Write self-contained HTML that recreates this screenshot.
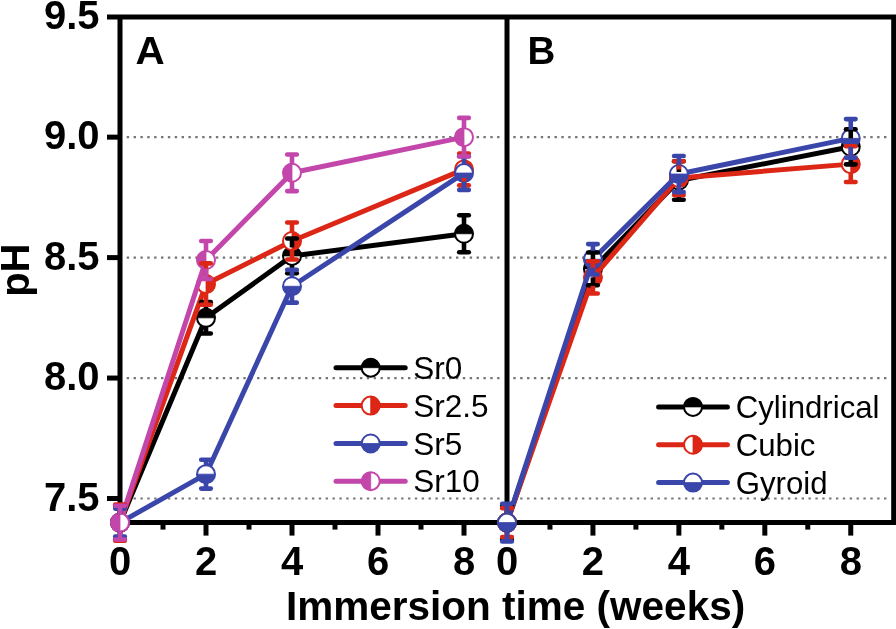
<!DOCTYPE html>
<html><head><meta charset="utf-8"><style>
html,body{margin:0;padding:0;background:#fff;}
body{width:896px;height:629px;overflow:hidden;font-family:"Liberation Sans",sans-serif;}
svg{display:block;will-change:transform;}
</style></head><body>
<svg width="896" height="629" viewBox="0 0 896 629" font-family="Liberation Sans, sans-serif"><rect width="896" height="629" fill="#fff"/><line x1="126.7" y1="137.15" x2="503" y2="137.15" stroke="#767676" stroke-width="2.2" stroke-dasharray="2.4 4.46"/><line x1="513.3" y1="137.15" x2="890" y2="137.15" stroke="#767676" stroke-width="2.2" stroke-dasharray="2.4 4.465"/><line x1="126.7" y1="257.60" x2="503" y2="257.60" stroke="#767676" stroke-width="2.2" stroke-dasharray="2.4 4.46"/><line x1="513.3" y1="257.60" x2="890" y2="257.60" stroke="#767676" stroke-width="2.2" stroke-dasharray="2.4 4.465"/><line x1="126.7" y1="378.05" x2="503" y2="378.05" stroke="#767676" stroke-width="2.2" stroke-dasharray="2.4 4.46"/><line x1="513.3" y1="378.05" x2="890" y2="378.05" stroke="#767676" stroke-width="2.2" stroke-dasharray="2.4 4.465"/><line x1="126.7" y1="498.50" x2="503" y2="498.50" stroke="#767676" stroke-width="2.2" stroke-dasharray="2.4 4.46"/><line x1="513.3" y1="498.50" x2="890" y2="498.50" stroke="#767676" stroke-width="2.2" stroke-dasharray="2.4 4.465"/><g stroke="#000" stroke-width="5" fill="none"><path d="M107,17.0 H893.7 V522.6 H120 V17.0"/><line x1="507" y1="17.0" x2="507" y2="522.6"/><line x1="107" y1="137.15" x2="120" y2="137.15"/><line x1="107" y1="257.60" x2="120" y2="257.60"/><line x1="107" y1="378.05" x2="120" y2="378.05"/><line x1="107" y1="498.50" x2="120" y2="498.50"/><line x1="206.00" y1="522.6" x2="206.00" y2="535.6"/><line x1="292.00" y1="522.6" x2="292.00" y2="535.6"/><line x1="378.00" y1="522.6" x2="378.00" y2="535.6"/><line x1="464.00" y1="522.6" x2="464.00" y2="535.6"/><line x1="163.00" y1="522.6" x2="163.00" y2="529.6"/><line x1="249.00" y1="522.6" x2="249.00" y2="529.6"/><line x1="335.00" y1="522.6" x2="335.00" y2="529.6"/><line x1="421.00" y1="522.6" x2="421.00" y2="529.6"/><line x1="592.94" y1="522.6" x2="592.94" y2="535.6"/><line x1="678.88" y1="522.6" x2="678.88" y2="535.6"/><line x1="764.82" y1="522.6" x2="764.82" y2="535.6"/><line x1="850.76" y1="522.6" x2="850.76" y2="535.6"/><line x1="549.97" y1="522.6" x2="549.97" y2="529.6"/><line x1="635.91" y1="522.6" x2="635.91" y2="529.6"/><line x1="721.85" y1="522.6" x2="721.85" y2="529.6"/><line x1="807.79" y1="522.6" x2="807.79" y2="529.6"/></g><polyline points="120.00,522.59 206.00,317.82 292.00,255.91 464.00,233.75" fill="none" stroke="#000000" stroke-width="5.0" stroke-linejoin="round" stroke-linecap="round"/><circle cx="120.00" cy="522.59" r="9.0" fill="#fff" stroke="#000000" stroke-width="2.0"/><path d="M111.00,522.59 A9.0,9.0 0 0 1 129.00,522.59 Z" fill="#000000" stroke="#000000" stroke-width="0.8"/><circle cx="206.00" cy="317.82" r="9.0" fill="#fff" stroke="#000000" stroke-width="2.0"/><path d="M197.00,317.82 A9.0,9.0 0 0 1 215.00,317.82 Z" fill="#000000" stroke="#000000" stroke-width="0.8"/><circle cx="292.00" cy="255.91" r="9.0" fill="#fff" stroke="#000000" stroke-width="2.0"/><path d="M283.00,255.91 A9.0,9.0 0 0 1 301.00,255.91 Z" fill="#000000" stroke="#000000" stroke-width="0.8"/><circle cx="464.00" cy="233.75" r="9.0" fill="#fff" stroke="#000000" stroke-width="2.0"/><path d="M455.00,233.75 A9.0,9.0 0 0 1 473.00,233.75 Z" fill="#000000" stroke="#000000" stroke-width="0.8"/><polyline points="120.00,522.59 206.00,284.10 292.00,240.98 464.00,169.43" fill="none" stroke="#DC2616" stroke-width="5.0" stroke-linejoin="round" stroke-linecap="round"/><circle cx="120.00" cy="522.59" r="9.0" fill="#fff" stroke="#DC2616" stroke-width="2.0"/><path d="M120.00,513.59 A9.0,9.0 0 0 1 120.00,531.59 Z" fill="#DC2616" stroke="#DC2616" stroke-width="0.8"/><circle cx="206.00" cy="284.10" r="9.0" fill="#fff" stroke="#DC2616" stroke-width="2.0"/><path d="M206.00,275.10 A9.0,9.0 0 0 1 206.00,293.10 Z" fill="#DC2616" stroke="#DC2616" stroke-width="0.8"/><circle cx="292.00" cy="240.98" r="9.0" fill="#fff" stroke="#DC2616" stroke-width="2.0"/><path d="M292.00,231.98 A9.0,9.0 0 0 1 292.00,249.98 Z" fill="#DC2616" stroke="#DC2616" stroke-width="0.8"/><circle cx="464.00" cy="169.43" r="9.0" fill="#fff" stroke="#DC2616" stroke-width="2.0"/><path d="M464.00,160.43 A9.0,9.0 0 0 1 464.00,178.43 Z" fill="#DC2616" stroke="#DC2616" stroke-width="0.8"/><polyline points="120.00,522.59 206.00,474.17 292.00,286.27 464.00,173.04" fill="none" stroke="#3A46AA" stroke-width="5.0" stroke-linejoin="round" stroke-linecap="round"/><circle cx="120.00" cy="522.59" r="9.0" fill="#fff" stroke="#3A46AA" stroke-width="2.0"/><path d="M111.00,522.59 A9.0,9.0 0 0 0 129.00,522.59 Z" fill="#3A46AA" stroke="#3A46AA" stroke-width="0.8"/><circle cx="206.00" cy="474.17" r="9.0" fill="#fff" stroke="#3A46AA" stroke-width="2.0"/><path d="M197.00,474.17 A9.0,9.0 0 0 0 215.00,474.17 Z" fill="#3A46AA" stroke="#3A46AA" stroke-width="0.8"/><circle cx="292.00" cy="286.27" r="9.0" fill="#fff" stroke="#3A46AA" stroke-width="2.0"/><path d="M283.00,286.27 A9.0,9.0 0 0 0 301.00,286.27 Z" fill="#3A46AA" stroke="#3A46AA" stroke-width="0.8"/><circle cx="464.00" cy="173.04" r="9.0" fill="#fff" stroke="#3A46AA" stroke-width="2.0"/><path d="M455.00,173.04 A9.0,9.0 0 0 0 473.00,173.04 Z" fill="#3A46AA" stroke="#3A46AA" stroke-width="0.8"/><polyline points="120.00,522.59 206.00,260.01 292.00,172.80 464.00,137.15" fill="none" stroke="#C346AA" stroke-width="5.0" stroke-linejoin="round" stroke-linecap="round"/><circle cx="120.00" cy="522.59" r="9.0" fill="#fff" stroke="#C346AA" stroke-width="2.0"/><path d="M120.00,513.59 A9.0,9.0 0 0 0 120.00,531.59 Z" fill="#C346AA" stroke="#C346AA" stroke-width="0.8"/><circle cx="206.00" cy="260.01" r="9.0" fill="#fff" stroke="#C346AA" stroke-width="2.0"/><path d="M206.00,251.01 A9.0,9.0 0 0 0 206.00,269.01 Z" fill="#C346AA" stroke="#C346AA" stroke-width="0.8"/><circle cx="292.00" cy="172.80" r="9.0" fill="#fff" stroke="#C346AA" stroke-width="2.0"/><path d="M292.00,163.80 A9.0,9.0 0 0 0 292.00,181.80 Z" fill="#C346AA" stroke="#C346AA" stroke-width="0.8"/><circle cx="464.00" cy="137.15" r="9.0" fill="#fff" stroke="#C346AA" stroke-width="2.0"/><path d="M464.00,128.15 A9.0,9.0 0 0 0 464.00,146.15 Z" fill="#C346AA" stroke="#C346AA" stroke-width="0.8"/><line x1="120.00" y1="514.09" x2="120.00" y2="505.73" stroke="#000000" stroke-width="4.6"/><line x1="120.00" y1="531.09" x2="120.00" y2="539.45" stroke="#000000" stroke-width="4.6"/><line x1="115.20" y1="505.73" x2="124.80" y2="505.73" stroke="#000000" stroke-width="4.6" stroke-linecap="round"/><line x1="115.20" y1="539.45" x2="124.80" y2="539.45" stroke="#000000" stroke-width="4.6" stroke-linecap="round"/><line x1="206.00" y1="309.32" x2="206.00" y2="302.17" stroke="#000000" stroke-width="4.6"/><line x1="206.00" y1="326.32" x2="206.00" y2="333.48" stroke="#000000" stroke-width="4.6"/><line x1="201.20" y1="302.17" x2="210.80" y2="302.17" stroke="#000000" stroke-width="4.6" stroke-linecap="round"/><line x1="201.20" y1="333.48" x2="210.80" y2="333.48" stroke="#000000" stroke-width="4.6" stroke-linecap="round"/><line x1="292.00" y1="247.41" x2="292.00" y2="238.57" stroke="#000000" stroke-width="4.6"/><line x1="292.00" y1="264.41" x2="292.00" y2="273.26" stroke="#000000" stroke-width="4.6"/><line x1="287.20" y1="238.57" x2="296.80" y2="238.57" stroke="#000000" stroke-width="4.6" stroke-linecap="round"/><line x1="287.20" y1="273.26" x2="296.80" y2="273.26" stroke="#000000" stroke-width="4.6" stroke-linecap="round"/><line x1="464.00" y1="225.25" x2="464.00" y2="215.20" stroke="#000000" stroke-width="4.6"/><line x1="464.00" y1="242.25" x2="464.00" y2="252.30" stroke="#000000" stroke-width="4.6"/><line x1="459.20" y1="215.20" x2="468.80" y2="215.20" stroke="#000000" stroke-width="4.6" stroke-linecap="round"/><line x1="459.20" y1="252.30" x2="468.80" y2="252.30" stroke="#000000" stroke-width="4.6" stroke-linecap="round"/><line x1="120.00" y1="514.09" x2="120.00" y2="504.52" stroke="#DC2616" stroke-width="4.6"/><line x1="120.00" y1="531.09" x2="120.00" y2="540.66" stroke="#DC2616" stroke-width="4.6"/><line x1="115.20" y1="504.52" x2="124.80" y2="504.52" stroke="#DC2616" stroke-width="4.6" stroke-linecap="round"/><line x1="115.20" y1="540.66" x2="124.80" y2="540.66" stroke="#DC2616" stroke-width="4.6" stroke-linecap="round"/><line x1="206.00" y1="275.60" x2="206.00" y2="263.38" stroke="#DC2616" stroke-width="4.6"/><line x1="206.00" y1="292.60" x2="206.00" y2="304.82" stroke="#DC2616" stroke-width="4.6"/><line x1="201.20" y1="263.38" x2="210.80" y2="263.38" stroke="#DC2616" stroke-width="4.6" stroke-linecap="round"/><line x1="201.20" y1="304.82" x2="210.80" y2="304.82" stroke="#DC2616" stroke-width="4.6" stroke-linecap="round"/><line x1="292.00" y1="232.48" x2="292.00" y2="222.43" stroke="#DC2616" stroke-width="4.6"/><line x1="292.00" y1="249.48" x2="292.00" y2="259.53" stroke="#DC2616" stroke-width="4.6"/><line x1="287.20" y1="222.43" x2="296.80" y2="222.43" stroke="#DC2616" stroke-width="4.6" stroke-linecap="round"/><line x1="287.20" y1="259.53" x2="296.80" y2="259.53" stroke="#DC2616" stroke-width="4.6" stroke-linecap="round"/><line x1="464.00" y1="160.93" x2="464.00" y2="153.53" stroke="#DC2616" stroke-width="4.6"/><line x1="464.00" y1="177.93" x2="464.00" y2="185.33" stroke="#DC2616" stroke-width="4.6"/><line x1="459.20" y1="153.53" x2="468.80" y2="153.53" stroke="#DC2616" stroke-width="4.6" stroke-linecap="round"/><line x1="459.20" y1="185.33" x2="468.80" y2="185.33" stroke="#DC2616" stroke-width="4.6" stroke-linecap="round"/><line x1="120.00" y1="514.09" x2="120.00" y2="508.62" stroke="#3A46AA" stroke-width="4.6"/><line x1="120.00" y1="531.09" x2="120.00" y2="536.56" stroke="#3A46AA" stroke-width="4.6"/><line x1="115.20" y1="508.62" x2="124.80" y2="508.62" stroke="#3A46AA" stroke-width="4.6" stroke-linecap="round"/><line x1="115.20" y1="536.56" x2="124.80" y2="536.56" stroke="#3A46AA" stroke-width="4.6" stroke-linecap="round"/><line x1="206.00" y1="465.67" x2="206.00" y2="459.72" stroke="#3A46AA" stroke-width="4.6"/><line x1="206.00" y1="482.67" x2="206.00" y2="488.62" stroke="#3A46AA" stroke-width="4.6"/><line x1="201.20" y1="459.72" x2="210.80" y2="459.72" stroke="#3A46AA" stroke-width="4.6" stroke-linecap="round"/><line x1="201.20" y1="488.62" x2="210.80" y2="488.62" stroke="#3A46AA" stroke-width="4.6" stroke-linecap="round"/><line x1="292.00" y1="277.77" x2="292.00" y2="269.89" stroke="#3A46AA" stroke-width="4.6"/><line x1="292.00" y1="294.77" x2="292.00" y2="302.65" stroke="#3A46AA" stroke-width="4.6"/><line x1="287.20" y1="269.89" x2="296.80" y2="269.89" stroke="#3A46AA" stroke-width="4.6" stroke-linecap="round"/><line x1="287.20" y1="302.65" x2="296.80" y2="302.65" stroke="#3A46AA" stroke-width="4.6" stroke-linecap="round"/><line x1="464.00" y1="164.54" x2="464.00" y2="156.18" stroke="#3A46AA" stroke-width="4.6"/><line x1="464.00" y1="181.54" x2="464.00" y2="189.91" stroke="#3A46AA" stroke-width="4.6"/><line x1="459.20" y1="156.18" x2="468.80" y2="156.18" stroke="#3A46AA" stroke-width="4.6" stroke-linecap="round"/><line x1="459.20" y1="189.91" x2="468.80" y2="189.91" stroke="#3A46AA" stroke-width="4.6" stroke-linecap="round"/><line x1="120.00" y1="514.09" x2="120.00" y2="505.73" stroke="#C346AA" stroke-width="4.6"/><line x1="120.00" y1="531.09" x2="120.00" y2="539.45" stroke="#C346AA" stroke-width="4.6"/><line x1="115.20" y1="505.73" x2="124.80" y2="505.73" stroke="#C346AA" stroke-width="4.6" stroke-linecap="round"/><line x1="115.20" y1="539.45" x2="124.80" y2="539.45" stroke="#C346AA" stroke-width="4.6" stroke-linecap="round"/><line x1="206.00" y1="251.51" x2="206.00" y2="240.98" stroke="#C346AA" stroke-width="4.6"/><line x1="206.00" y1="268.51" x2="206.00" y2="279.04" stroke="#C346AA" stroke-width="4.6"/><line x1="201.20" y1="240.98" x2="210.80" y2="240.98" stroke="#C346AA" stroke-width="4.6" stroke-linecap="round"/><line x1="201.20" y1="279.04" x2="210.80" y2="279.04" stroke="#C346AA" stroke-width="4.6" stroke-linecap="round"/><line x1="292.00" y1="164.30" x2="292.00" y2="154.49" stroke="#C346AA" stroke-width="4.6"/><line x1="292.00" y1="181.30" x2="292.00" y2="191.11" stroke="#C346AA" stroke-width="4.6"/><line x1="287.20" y1="154.49" x2="296.80" y2="154.49" stroke="#C346AA" stroke-width="4.6" stroke-linecap="round"/><line x1="287.20" y1="191.11" x2="296.80" y2="191.11" stroke="#C346AA" stroke-width="4.6" stroke-linecap="round"/><line x1="464.00" y1="128.65" x2="464.00" y2="117.88" stroke="#C346AA" stroke-width="4.6"/><line x1="464.00" y1="145.65" x2="464.00" y2="156.42" stroke="#C346AA" stroke-width="4.6"/><line x1="459.20" y1="117.88" x2="468.80" y2="117.88" stroke="#C346AA" stroke-width="4.6" stroke-linecap="round"/><line x1="459.20" y1="156.42" x2="468.80" y2="156.42" stroke="#C346AA" stroke-width="4.6" stroke-linecap="round"/><polyline points="507.00,522.59 592.94,268.92 678.88,180.51 850.76,146.79" fill="none" stroke="#000000" stroke-width="5.0" stroke-linejoin="round" stroke-linecap="round"/><circle cx="507.00" cy="522.59" r="9.0" fill="#fff" stroke="#000000" stroke-width="2.0"/><path d="M498.00,522.59 A9.0,9.0 0 0 1 516.00,522.59 Z" fill="#000000" stroke="#000000" stroke-width="0.8"/><circle cx="592.94" cy="268.92" r="9.0" fill="#fff" stroke="#000000" stroke-width="2.0"/><path d="M583.94,268.92 A9.0,9.0 0 0 1 601.94,268.92 Z" fill="#000000" stroke="#000000" stroke-width="0.8"/><circle cx="678.88" cy="180.51" r="9.0" fill="#fff" stroke="#000000" stroke-width="2.0"/><path d="M669.88,180.51 A9.0,9.0 0 0 1 687.88,180.51 Z" fill="#000000" stroke="#000000" stroke-width="0.8"/><circle cx="850.76" cy="146.79" r="9.0" fill="#fff" stroke="#000000" stroke-width="2.0"/><path d="M841.76,146.79 A9.0,9.0 0 0 1 859.76,146.79 Z" fill="#000000" stroke="#000000" stroke-width="0.8"/><polyline points="507.00,522.59 592.94,277.35 678.88,178.10 850.76,164.13" fill="none" stroke="#DC2616" stroke-width="5.0" stroke-linejoin="round" stroke-linecap="round"/><circle cx="507.00" cy="522.59" r="9.0" fill="#fff" stroke="#DC2616" stroke-width="2.0"/><path d="M507.00,513.59 A9.0,9.0 0 0 1 507.00,531.59 Z" fill="#DC2616" stroke="#DC2616" stroke-width="0.8"/><circle cx="592.94" cy="277.35" r="9.0" fill="#fff" stroke="#DC2616" stroke-width="2.0"/><path d="M592.94,268.35 A9.0,9.0 0 0 1 592.94,286.35 Z" fill="#DC2616" stroke="#DC2616" stroke-width="0.8"/><circle cx="678.88" cy="178.10" r="9.0" fill="#fff" stroke="#DC2616" stroke-width="2.0"/><path d="M678.88,169.10 A9.0,9.0 0 0 1 678.88,187.10 Z" fill="#DC2616" stroke="#DC2616" stroke-width="0.8"/><circle cx="850.76" cy="164.13" r="9.0" fill="#fff" stroke="#DC2616" stroke-width="2.0"/><path d="M850.76,155.13 A9.0,9.0 0 0 1 850.76,173.13 Z" fill="#DC2616" stroke="#DC2616" stroke-width="0.8"/><polyline points="507.00,522.59 592.94,259.29 678.88,174.01 850.76,138.35" fill="none" stroke="#3A46AA" stroke-width="5.0" stroke-linejoin="round" stroke-linecap="round"/><circle cx="507.00" cy="522.59" r="9.0" fill="#fff" stroke="#3A46AA" stroke-width="2.0"/><path d="M498.00,522.59 A9.0,9.0 0 0 0 516.00,522.59 Z" fill="#3A46AA" stroke="#3A46AA" stroke-width="0.8"/><circle cx="592.94" cy="259.29" r="9.0" fill="#fff" stroke="#3A46AA" stroke-width="2.0"/><path d="M583.94,259.29 A9.0,9.0 0 0 0 601.94,259.29 Z" fill="#3A46AA" stroke="#3A46AA" stroke-width="0.8"/><circle cx="678.88" cy="174.01" r="9.0" fill="#fff" stroke="#3A46AA" stroke-width="2.0"/><path d="M669.88,174.01 A9.0,9.0 0 0 0 687.88,174.01 Z" fill="#3A46AA" stroke="#3A46AA" stroke-width="0.8"/><circle cx="850.76" cy="138.35" r="9.0" fill="#fff" stroke="#3A46AA" stroke-width="2.0"/><path d="M841.76,138.35 A9.0,9.0 0 0 0 859.76,138.35 Z" fill="#3A46AA" stroke="#3A46AA" stroke-width="0.8"/><line x1="507.00" y1="514.09" x2="507.00" y2="505.73" stroke="#000000" stroke-width="4.6"/><line x1="507.00" y1="531.09" x2="507.00" y2="539.45" stroke="#000000" stroke-width="4.6"/><line x1="502.20" y1="505.73" x2="511.80" y2="505.73" stroke="#000000" stroke-width="4.6" stroke-linecap="round"/><line x1="502.20" y1="539.45" x2="511.80" y2="539.45" stroke="#000000" stroke-width="4.6" stroke-linecap="round"/><line x1="592.94" y1="260.42" x2="592.94" y2="252.54" stroke="#000000" stroke-width="4.6"/><line x1="592.94" y1="277.42" x2="592.94" y2="285.30" stroke="#000000" stroke-width="4.6"/><line x1="588.14" y1="252.54" x2="597.74" y2="252.54" stroke="#000000" stroke-width="4.6" stroke-linecap="round"/><line x1="588.14" y1="285.30" x2="597.74" y2="285.30" stroke="#000000" stroke-width="4.6" stroke-linecap="round"/><line x1="678.88" y1="172.01" x2="678.88" y2="161.24" stroke="#000000" stroke-width="4.6"/><line x1="678.88" y1="189.01" x2="678.88" y2="199.78" stroke="#000000" stroke-width="4.6"/><line x1="674.08" y1="161.24" x2="683.68" y2="161.24" stroke="#000000" stroke-width="4.6" stroke-linecap="round"/><line x1="674.08" y1="199.78" x2="683.68" y2="199.78" stroke="#000000" stroke-width="4.6" stroke-linecap="round"/><line x1="850.76" y1="138.29" x2="850.76" y2="129.20" stroke="#000000" stroke-width="4.6"/><line x1="850.76" y1="155.29" x2="850.76" y2="164.37" stroke="#000000" stroke-width="4.6"/><line x1="845.96" y1="129.20" x2="855.56" y2="129.20" stroke="#000000" stroke-width="4.6" stroke-linecap="round"/><line x1="845.96" y1="164.37" x2="855.56" y2="164.37" stroke="#000000" stroke-width="4.6" stroke-linecap="round"/><line x1="507.00" y1="514.09" x2="507.00" y2="508.14" stroke="#DC2616" stroke-width="4.6"/><line x1="507.00" y1="531.09" x2="507.00" y2="537.04" stroke="#DC2616" stroke-width="4.6"/><line x1="502.20" y1="508.14" x2="511.80" y2="508.14" stroke="#DC2616" stroke-width="4.6" stroke-linecap="round"/><line x1="502.20" y1="537.04" x2="511.80" y2="537.04" stroke="#DC2616" stroke-width="4.6" stroke-linecap="round"/><line x1="592.94" y1="268.85" x2="592.94" y2="261.21" stroke="#DC2616" stroke-width="4.6"/><line x1="592.94" y1="285.85" x2="592.94" y2="293.49" stroke="#DC2616" stroke-width="4.6"/><line x1="588.14" y1="261.21" x2="597.74" y2="261.21" stroke="#DC2616" stroke-width="4.6" stroke-linecap="round"/><line x1="588.14" y1="293.49" x2="597.74" y2="293.49" stroke="#DC2616" stroke-width="4.6" stroke-linecap="round"/><line x1="678.88" y1="169.60" x2="678.88" y2="161.24" stroke="#DC2616" stroke-width="4.6"/><line x1="678.88" y1="186.60" x2="678.88" y2="194.97" stroke="#DC2616" stroke-width="4.6"/><line x1="674.08" y1="161.24" x2="683.68" y2="161.24" stroke="#DC2616" stroke-width="4.6" stroke-linecap="round"/><line x1="674.08" y1="194.97" x2="683.68" y2="194.97" stroke="#DC2616" stroke-width="4.6" stroke-linecap="round"/><line x1="850.76" y1="155.63" x2="850.76" y2="146.30" stroke="#DC2616" stroke-width="4.6"/><line x1="850.76" y1="172.63" x2="850.76" y2="181.96" stroke="#DC2616" stroke-width="4.6"/><line x1="845.96" y1="146.30" x2="855.56" y2="146.30" stroke="#DC2616" stroke-width="4.6" stroke-linecap="round"/><line x1="845.96" y1="181.96" x2="855.56" y2="181.96" stroke="#DC2616" stroke-width="4.6" stroke-linecap="round"/><line x1="507.00" y1="514.09" x2="507.00" y2="503.80" stroke="#3A46AA" stroke-width="4.6"/><line x1="507.00" y1="531.09" x2="507.00" y2="541.38" stroke="#3A46AA" stroke-width="4.6"/><line x1="502.20" y1="503.80" x2="511.80" y2="503.80" stroke="#3A46AA" stroke-width="4.6" stroke-linecap="round"/><line x1="502.20" y1="541.38" x2="511.80" y2="541.38" stroke="#3A46AA" stroke-width="4.6" stroke-linecap="round"/><line x1="592.94" y1="250.79" x2="592.94" y2="244.11" stroke="#3A46AA" stroke-width="4.6"/><line x1="592.94" y1="267.79" x2="592.94" y2="274.46" stroke="#3A46AA" stroke-width="4.6"/><line x1="588.14" y1="244.11" x2="597.74" y2="244.11" stroke="#3A46AA" stroke-width="4.6" stroke-linecap="round"/><line x1="588.14" y1="274.46" x2="597.74" y2="274.46" stroke="#3A46AA" stroke-width="4.6" stroke-linecap="round"/><line x1="678.88" y1="165.51" x2="678.88" y2="155.94" stroke="#3A46AA" stroke-width="4.6"/><line x1="678.88" y1="182.51" x2="678.88" y2="192.08" stroke="#3A46AA" stroke-width="4.6"/><line x1="674.08" y1="155.94" x2="683.68" y2="155.94" stroke="#3A46AA" stroke-width="4.6" stroke-linecap="round"/><line x1="674.08" y1="192.08" x2="683.68" y2="192.08" stroke="#3A46AA" stroke-width="4.6" stroke-linecap="round"/><line x1="850.76" y1="129.85" x2="850.76" y2="119.08" stroke="#3A46AA" stroke-width="4.6"/><line x1="850.76" y1="146.85" x2="850.76" y2="157.63" stroke="#3A46AA" stroke-width="4.6"/><line x1="845.96" y1="119.08" x2="855.56" y2="119.08" stroke="#3A46AA" stroke-width="4.6" stroke-linecap="round"/><line x1="845.96" y1="157.63" x2="855.56" y2="157.63" stroke="#3A46AA" stroke-width="4.6" stroke-linecap="round"/><line x1="336" y1="367.7" x2="405.2" y2="367.7" stroke="#000000" stroke-width="5.0" stroke-linecap="round"/><circle cx="370.70" cy="367.70" r="9.0" fill="#fff" stroke="#000000" stroke-width="2.0"/><path d="M361.70,367.70 A9.0,9.0 0 0 1 379.70,367.70 Z" fill="#000000" stroke="#000000" stroke-width="0.8"/><text x="413.2" y="378.7" font-size="31.5">Sr0</text><line x1="336" y1="405.6" x2="405.2" y2="405.6" stroke="#DC2616" stroke-width="5.0" stroke-linecap="round"/><circle cx="370.70" cy="405.60" r="9.0" fill="#fff" stroke="#DC2616" stroke-width="2.0"/><path d="M370.70,396.60 A9.0,9.0 0 0 1 370.70,414.60 Z" fill="#DC2616" stroke="#DC2616" stroke-width="0.8"/><text x="413.2" y="416.6" font-size="31.5">Sr2.5</text><line x1="336" y1="443.5" x2="405.2" y2="443.5" stroke="#3A46AA" stroke-width="5.0" stroke-linecap="round"/><circle cx="370.70" cy="443.50" r="9.0" fill="#fff" stroke="#3A46AA" stroke-width="2.0"/><path d="M361.70,443.50 A9.0,9.0 0 0 0 379.70,443.50 Z" fill="#3A46AA" stroke="#3A46AA" stroke-width="0.8"/><text x="413.2" y="454.5" font-size="31.5">Sr5</text><line x1="336" y1="481.2" x2="405.2" y2="481.2" stroke="#C346AA" stroke-width="5.0" stroke-linecap="round"/><circle cx="370.70" cy="481.20" r="9.0" fill="#fff" stroke="#C346AA" stroke-width="2.0"/><path d="M370.70,472.20 A9.0,9.0 0 0 0 370.70,490.20 Z" fill="#C346AA" stroke="#C346AA" stroke-width="0.8"/><text x="413.2" y="492.2" font-size="31.5">Sr10</text><line x1="658.6" y1="406.9" x2="727.4" y2="406.9" stroke="#000000" stroke-width="5.0" stroke-linecap="round"/><circle cx="693.00" cy="406.90" r="9.0" fill="#fff" stroke="#000000" stroke-width="2.0"/><path d="M684.00,406.90 A9.0,9.0 0 0 1 702.00,406.90 Z" fill="#000000" stroke="#000000" stroke-width="0.8"/><text x="735.7" y="417.9" font-size="31.2">Cylindrical</text><line x1="658.6" y1="444.8" x2="727.4" y2="444.8" stroke="#DC2616" stroke-width="5.0" stroke-linecap="round"/><circle cx="693.00" cy="444.80" r="9.0" fill="#fff" stroke="#DC2616" stroke-width="2.0"/><path d="M693.00,435.80 A9.0,9.0 0 0 1 693.00,453.80 Z" fill="#DC2616" stroke="#DC2616" stroke-width="0.8"/><text x="735.7" y="455.8" font-size="31.2">Cubic</text><line x1="658.6" y1="482.6" x2="727.4" y2="482.6" stroke="#3A46AA" stroke-width="5.0" stroke-linecap="round"/><circle cx="693.00" cy="482.60" r="9.0" fill="#fff" stroke="#3A46AA" stroke-width="2.0"/><path d="M684.00,482.60 A9.0,9.0 0 0 0 702.00,482.60 Z" fill="#3A46AA" stroke="#3A46AA" stroke-width="0.8"/><text x="735.7" y="493.6" font-size="31.2">Gyroid</text><g font-weight="bold" font-size="40"><text transform="translate(99.5,28.9) scale(1,1.035)" text-anchor="end">9.5</text><text transform="translate(99.5,149.3) scale(1,1.035)" text-anchor="end">9.0</text><text transform="translate(99.5,269.8) scale(1,1.035)" text-anchor="end">8.5</text><text transform="translate(99.5,390.2) scale(1,1.035)" text-anchor="end">8.0</text><text transform="translate(99.5,510.7) scale(1,1.035)" text-anchor="end">7.5</text><text x="120.00" y="575" text-anchor="middle">0</text><text x="206.00" y="575" text-anchor="middle">2</text><text x="292.00" y="575" text-anchor="middle">4</text><text x="378.00" y="575" text-anchor="middle">6</text><text x="464.00" y="575" text-anchor="middle">8</text><text x="507.00" y="575" text-anchor="middle">0</text><text x="592.94" y="575" text-anchor="middle">2</text><text x="678.88" y="575" text-anchor="middle">4</text><text x="764.82" y="575" text-anchor="middle">6</text><text x="850.76" y="575" text-anchor="middle">8</text><text x="515.6" y="619.6" text-anchor="middle" font-size="40.5">Immersion time (weeks)</text><text transform="translate(28.6,270.2) rotate(-90)" text-anchor="middle">pH</text><text transform="translate(135.5,63.5) scale(1.05,1)" font-size="38.5">A</text><text x="527.5" y="63.5" font-size="38.5">B</text></g></svg>
</body></html>
